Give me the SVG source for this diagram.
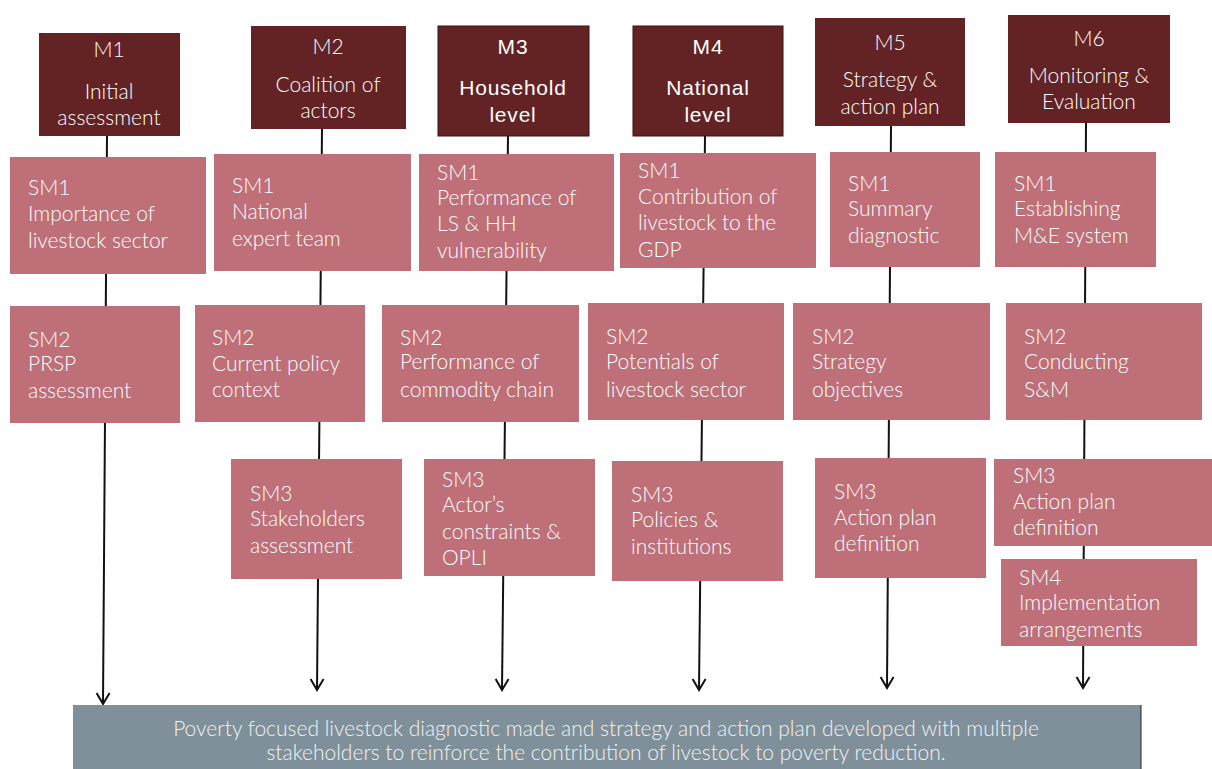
<svg xmlns="http://www.w3.org/2000/svg" width="1212" height="769" viewBox="0 0 1212 769">
<defs>
<style>
.m{fill:#632325}
.s{fill:#BE6F78}
.t{font-family:Lato,"Open Sans","Liberation Sans",sans-serif;font-size:21px;font-weight:300;fill:#FFFFFF}
.c{text-anchor:middle}
.a{font-family:"Liberation Sans",Arial,sans-serif;font-size:21px;letter-spacing:0.8px;fill:#FFFFFF;text-anchor:middle}
.ln{stroke:#111;stroke-width:2;fill:none}
.bar{fill:#7F909A}
.bt{font-family:Lato,"Open Sans","Liberation Sans",sans-serif;font-size:21px;font-weight:300;fill:#F2F2F2;text-anchor:middle}
</style>
<marker id="ah" markerUnits="userSpaceOnUse" markerWidth="16" markerHeight="16" viewBox="0 0 16 16" refX="14" refY="8" orient="auto">
<path d="M3,1.5 L14,8 L3,14.5" fill="none" stroke="#111" stroke-width="2"/>
</marker>
</defs>
<rect width="1212" height="769" fill="#FFFFFF"/>
<g id="connectors">
<line class="ln" x1="107" y1="136" x2="103" y2="704" marker-end="url(#ah)"/>
<line class="ln" x1="322" y1="129" x2="317" y2="690" marker-end="url(#ah)"/>
<line class="ln" x1="508" y1="136" x2="502" y2="690" marker-end="url(#ah)"/>
<line class="ln" x1="705" y1="136" x2="699" y2="690" marker-end="url(#ah)"/>
<line class="ln" x1="891" y1="126" x2="887" y2="688" marker-end="url(#ah)"/>
<line class="ln" x1="1086" y1="123" x2="1083" y2="688" marker-end="url(#ah)"/>
</g>
<g id="M1"><rect class="m" x="39" y="33" width="141" height="103"/>
<text class="t c" x="109" y="57">M1</text><text class="t c" x="109" y="99">Initial</text><text class="t c" x="109" y="125">assessment</text></g>
<g id="M2"><rect class="m" x="251" y="26" width="155" height="103"/>
<text class="t c" x="328" y="54">M2</text><text class="t c" x="328" y="92">Coalition of</text><text class="t c" x="328" y="118">actors</text></g>
<g id="M3"><rect class="m" x="438" y="26" width="151" height="110" stroke="#3a1214" stroke-width="1"/>
<text class="a" x="513" y="54">M3</text><text class="a" x="513" y="95">Household</text><text class="a" x="513" y="122">level</text></g>
<g id="M4"><rect class="m" x="633" y="26" width="150" height="110" stroke="#3a1214" stroke-width="1"/>
<text class="a" x="708" y="54">M4</text><text class="a" x="708" y="95">National</text><text class="a" x="708" y="122">level</text></g>
<g id="M5"><rect class="m" x="815" y="18" width="150" height="108"/>
<text class="t c" x="890" y="50">M5</text><text class="t c" x="890" y="87">Strategy &amp;</text><text class="t c" x="890" y="114">action plan</text></g>
<g id="M6"><rect class="m" x="1008" y="15" width="162" height="108"/>
<text class="t c" x="1089" y="46">M6</text><text class="t c" x="1089" y="83">Monitoring &amp;</text><text class="t c" x="1089" y="109">Evaluation</text></g>

<g id="M1-SM1"><rect class="s" x="10" y="157" width="196" height="117"/>
<text class="t" x="28" y="195">SM1</text><text class="t" x="28" y="221">Importance of</text><text class="t" x="28" y="248">livestock sector</text></g>
<g id="M1-SM2"><rect class="s" x="10" y="306" width="170" height="117"/>
<text class="t" x="28" y="347">SM2</text><text class="t" x="28" y="371">PRSP</text><text class="t" x="28" y="398">assessment</text></g>

<g id="M2-SM1"><rect class="s" x="214" y="154" width="197" height="117"/>
<text class="t" x="232" y="193">SM1</text><text class="t" x="232" y="219">National</text><text class="t" x="232" y="246">expert team</text></g>
<g id="M2-SM2"><rect class="s" x="195" y="305" width="170" height="117"/>
<text class="t" x="212" y="345">SM2</text><text class="t" x="212" y="371">Current policy</text><text class="t" x="212" y="397">context</text></g>
<g id="M2-SM3"><rect class="s" x="231" y="459" width="171" height="120"/>
<text class="t" x="250" y="501">SM3</text><text class="t" x="250" y="526">Stakeholders</text><text class="t" x="250" y="553">assessment</text></g>

<g id="M3-SM1"><rect class="s" x="419" y="154" width="195" height="117"/>
<text class="t" x="437" y="180">SM1</text><text class="t" x="437" y="205">Performance of</text><text class="t" x="437" y="231">LS &amp; HH</text><text class="t" x="437" y="258">vulnerability</text></g>
<g id="M3-SM2"><rect class="s" x="382" y="305" width="197" height="117"/>
<text class="t" x="400" y="345">SM2</text><text class="t" x="400" y="369">Performance of</text><text class="t" x="400" y="397">commodity chain</text></g>
<g id="M3-SM3"><rect class="s" x="424" y="459" width="171" height="117"/>
<text class="t" x="442" y="487">SM3</text><text class="t" x="442" y="512">Actor’s</text><text class="t" x="442" y="539">constraints &amp;</text><text class="t" x="442" y="565">OPLI</text></g>

<g id="M4-SM1"><rect class="s" x="620" y="153" width="196" height="115"/>
<text class="t" x="638" y="178">SM1</text><text class="t" x="638" y="204">Contribution of</text><text class="t" x="638" y="230">livestock to the</text><text class="t" x="638" y="257">GDP</text></g>
<g id="M4-SM2"><rect class="s" x="588" y="303" width="196" height="117"/>
<text class="t" x="606" y="344">SM2</text><text class="t" x="606" y="369">Potentials of</text><text class="t" x="606" y="397">livestock sector</text></g>
<g id="M4-SM3"><rect class="s" x="612" y="461" width="171" height="120"/>
<text class="t" x="631" y="502">SM3</text><text class="t" x="631" y="527">Policies &amp;</text><text class="t" x="631" y="554">institutions</text></g>

<g id="M5-SM1"><rect class="s" x="830" y="152" width="150" height="115"/>
<text class="t" x="848" y="191">SM1</text><text class="t" x="848" y="216">Summary</text><text class="t" x="848" y="243">diagnostic</text></g>
<g id="M5-SM2"><rect class="s" x="793" y="303" width="197" height="117"/>
<text class="t" x="812" y="344">SM2</text><text class="t" x="812" y="369">Strategy</text><text class="t" x="812" y="397">objectives</text></g>
<g id="M5-SM3"><rect class="s" x="815" y="458" width="171" height="120"/>
<text class="t" x="834" y="499">SM3</text><text class="t" x="834" y="525">Action plan</text><text class="t" x="834" y="551">definition</text></g>

<g id="M6-SM1"><rect class="s" x="995" y="152" width="161" height="115"/>
<text class="t" x="1014" y="191">SM1</text><text class="t" x="1014" y="216">Establishing</text><text class="t" x="1014" y="243">M&amp;E system</text></g>
<g id="M6-SM2"><rect class="s" x="1006" y="303" width="196" height="117"/>
<text class="t" x="1024" y="344">SM2</text><text class="t" x="1024" y="369">Conducting</text><text class="t" x="1024" y="397">S&amp;M</text></g>
<g id="M6-SM3"><rect class="s" x="994" y="459" width="218" height="87"/>
<text class="t" x="1013" y="483">SM3</text><text class="t" x="1013" y="509">Action plan</text><text class="t" x="1013" y="535">definition</text></g>
<g id="M6-SM4"><rect class="s" x="1001" y="559" width="196" height="87"/>
<text class="t" x="1019" y="585">SM4</text><text class="t" x="1019" y="610">Implementation</text><text class="t" x="1019" y="637">arrangements</text></g>

<g id="outcome"><rect class="bar" x="73" y="705" width="1068" height="64"/>
<line x1="1141" y1="705" x2="1141" y2="769" stroke="#222" stroke-width="1"/>
<text class="bt" x="606" y="736">Poverty focused livestock diagnostic made and strategy and action plan developed with multiple</text>
<text class="bt" x="606" y="760">stakeholders to reinforce the contribution of livestock to poverty reduction.</text></g>
</svg>
